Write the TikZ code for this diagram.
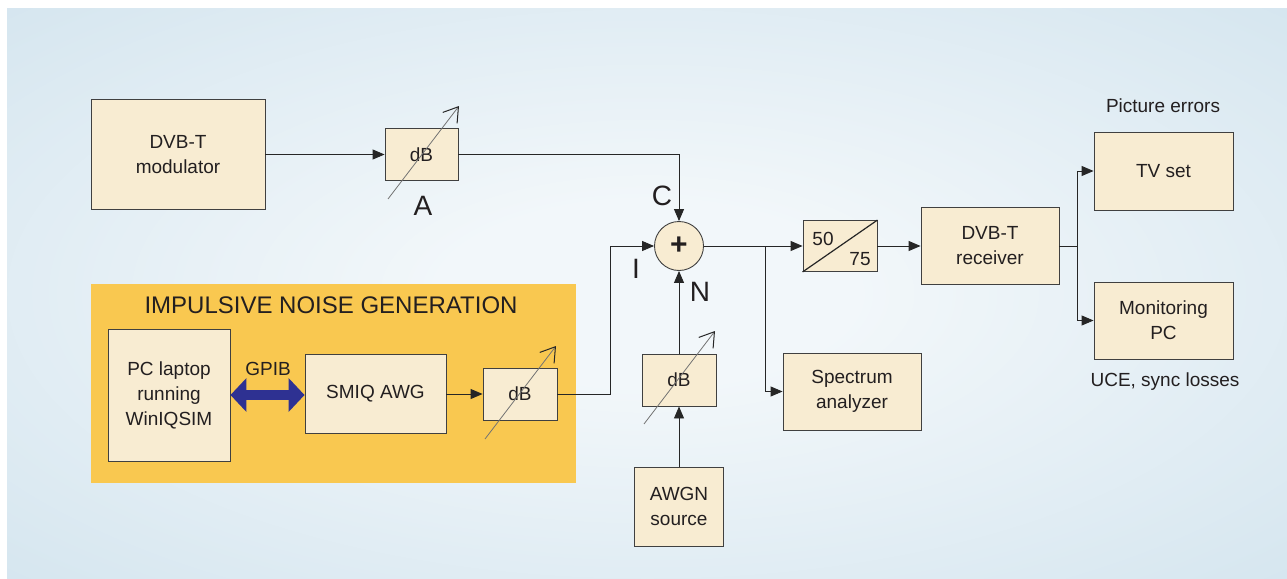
\documentclass[tikz,border=0pt]{standalone}
\usepackage{fontspec}
\setmainfont{Liberation Sans}
\usetikzlibrary{arrows.meta}
\definecolor{bgin}{RGB}{242,247,250}
\definecolor{bgout}{RGB}{207,226,237}
\definecolor{cream}{RGB}{248,236,210}
\definecolor{orangebg}{RGB}{249,200,80}
\definecolor{gpibblue}{RGB}{46,49,146}
\definecolor{txt}{RGB}{35,31,32}
\pgfdeclareradialshading{bgshade}{\pgfpoint{0bp}{0bp}}{color(0bp)=(bgin); color(8bp)=(bgin); color(42bp)=(bgout); color(72bp)=(bgout)}
\tikzset{
  box/.style={draw=black!75, line width=0.9pt, fill=cream, inner sep=0pt, align=center,
    text=txt, font=\fontsize{19}{25}\selectfont},
  conn/.style={draw=black!85, line width=0.9pt, -{Triangle[length=12pt,width=10pt]}},
  plain/.style={draw=black!85, line width=0.9pt},
  tune/.style={draw=black!55, line width=0.8pt, -{Straight Barb[length=14pt,width=18pt,line width=1pt,color=black!85]}},
  biglbl/.style={text=txt, font=\fontsize{28}{30}\selectfont, inner sep=0pt},
  lbl/.style={text=txt, font=\fontsize{19}{22}\selectfont, inner sep=0pt},
}
\begin{document}
\begin{tikzpicture}[x=1pt,y=-1pt]
\useasboundingbox (0,0) rectangle (1287,578);
\fill[white] (0,0) rectangle (1287,578);
\shade[shading=bgshade] (7,9) rectangle (1287,578);
\fill[orangebg] (91,284) rectangle (576,483);
\node[text=txt, font=\fontsize{24}{26}\selectfont, inner sep=0pt] (ing) at (331,305) {IMPULSIVE NOISE GENERATION};

% nodes
\node[box, minimum width=174pt, minimum height=110pt] (mod) at (178,154.5) {DVB-T\\modulator};
\node[box, minimum width=73pt, minimum height=52pt] (dbA) at (421.5,154.5) {dB};
\node[box, circle, minimum size=49pt, font=\fontsize{30}{30}\selectfont\bfseries] (sum) at (679,246) {+};
\node[box, minimum width=74pt, minimum height=51pt] (c5075) at (840,246) {};
\node[box, minimum width=138pt, minimum height=77pt] (rx) at (990,246) {DVB-T\\receiver};
\node[box, minimum width=139pt, minimum height=78pt] (tv) at (1163.5,171) {TV set};
\node[box, minimum width=139pt, minimum height=77pt] (mpc) at (1163.5,320.5) {Monitoring\\PC};
\node[box, minimum width=138pt, minimum height=77pt] (spec) at (852,391.5) {Spectrum\\analyzer};
\node[box, minimum width=74pt, minimum height=52pt] (dbN) at (679,380) {dB};
\node[box, minimum width=89pt, minimum height=79pt] (awgn) at (679,506.5) {AWGN\\source};
\node[box, minimum width=122pt, minimum height=132pt] (pc) at (169,395) {PC laptop\\running\\WinIQSIM};
\node[box, minimum width=141pt, minimum height=79pt] (smiq) at (375.5,394) {SMIQ AWG};
\node[box, minimum width=74pt, minimum height=52pt] (dbI) at (520,394) {dB};

% 50/75
\draw[draw=black!85, line width=1.2pt] (c5075.south west) -- (c5075.north east);
\node[lbl] (n50) at (823,239) {50};
\node[lbl] (n75) at (860,259) {75};

% labels
\node[biglbl] (lA) at (423,206) {A};
\node[biglbl] (lC) at (662,196) {C};
\node[biglbl] (lI) at (636,269) {I};
\node[biglbl] (lN) at (700,292) {N};
\node[lbl] (lpe) at (1163,106) {Picture errors};
\node[lbl] (luce) at (1165,382) {UCE, sync losses};
\node[lbl] (lgpib) at (268,369) {GPIB};

% tuning arrows
\coordinate (tA1) at (388,199); \coordinate (tA2) at (459,106);
\coordinate (tI1) at (485,439); \coordinate (tI2) at (556,346);
\coordinate (tN1) at (644,424); \coordinate (tN2) at (715,331);
\draw[tune] (tA1) -- (tA2);
\draw[tune] (tI1) -- (tI2);
\draw[tune] (tN1) -- (tN2);

% connectors
\draw[conn] (mod.east |- dbA.west) -- (dbA.west);
\draw[conn] (dbA.east) -| (sum.north);
\draw[conn] (smiq.east |- dbI.west) -- (dbI.west);
\draw[conn] (dbI.east) -- ++(53,0) |- (sum.west);
\draw[conn] (awgn.north) -- (dbN.south);
\draw[conn] (dbN.north) -- (sum.south);
\draw[conn] (sum.east) -- (c5075.west);
\coordinate (br) at (765,246);
\draw[conn] (br) |- (spec.west);
\draw[conn] (c5075.east) -- (rx.west);
\coordinate (br2) at (1077,246);
\draw[plain] (rx.east) -- (br2);
\draw[conn] (br2) |- (tv.west);
\draw[conn] (br2) |- (mpc.west);

% GPIB
\draw[gpibblue, line width=10pt, {Triangle[length=16pt,width=33pt]}-{Triangle[length=16pt,width=33pt]}]
  (pc.east) -- (pc.east -| smiq.west);
\end{tikzpicture}
\end{document}
